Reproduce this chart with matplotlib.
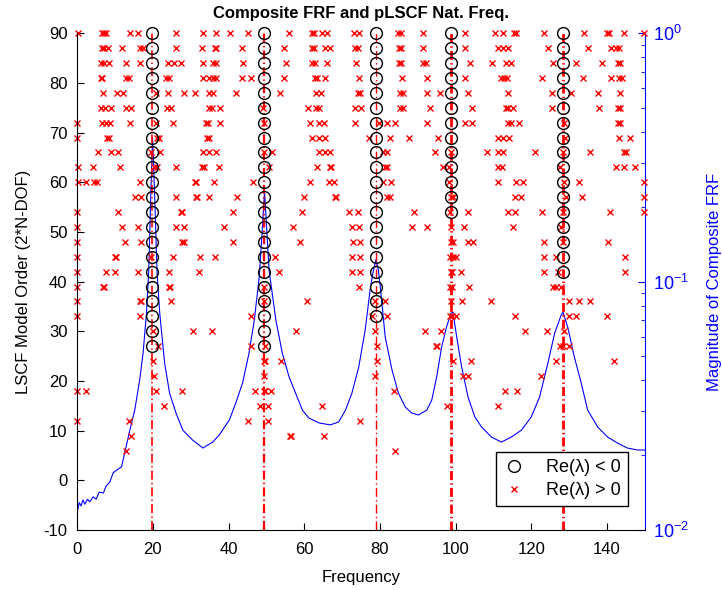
import numpy as np
import matplotlib
matplotlib.use("Agg")
import matplotlib.pyplot as plt
from matplotlib.lines import Line2D

plt.rcParams["font.family"] = ["Liberation Sans", "DejaVu Sans"]
plt.rcParams["font.size"] = 12
plt.rcParams["mathtext.fontset"] = "custom"
plt.rcParams["mathtext.rm"] = "Liberation Sans"
plt.rcParams["axes.unicode_minus"] = False
plt.rcParams["lines.scale_dashes"] = False

# --- data -----------------------------------------------------------------
# stable poles (black circles) and the dash-dot natural-frequency lines
STABLE_FREQ = [19.8, 49.4, 79.0, 98.8, 128.3]
STABLE_MIN_ORDER = [27, 27, 33, 54, 42]
LINE_WIDTH = [1.2, 1.6, 1.0, 2.0, 2.0]

# model orders and the red "x" poles (Re(lambda) > 0) found at each order
ORDERS = [90, 87, 84, 81, 78, 75, 72, 69, 66, 63, 60, 57, 54, 51, 48, 45,
          42, 39, 36, 33, 30, 27, 24, 21, 18, 15, 12, 9, 6]
UNSTABLE_FREQ = [
    [0.3, 6.6, 7.0, 7.5, 14.0, 16.1, 26.0, 33.2, 36.7, 40.4, 45.0, 56.0, 62.1,
     62.6, 64.7, 66.1, 73.1, 74.4, 84.9, 85.6, 91.5, 102.5, 110.4, 112.6,
     115.4, 115.9, 123.5, 134.0, 140.0, 140.5, 144.6, 149.8],
    [6.6, 7.2, 8.0, 11.7, 16.5, 17.4, 26.0, 33.0, 36.4, 36.8, 43.5, 54.7, 62.1,
     62.6, 65.6, 66.7, 73.3, 74.2, 85.1, 85.6, 91.5, 102.5, 111.2, 112.6,
     113.9, 124.4, 135.1, 141.2, 142.4, 143.3],
    [6.4, 7.1, 8.4, 12.8, 16.7, 23.9, 25.7, 27.5, 33.2, 36.0, 36.7, 43.9, 55.1,
     62.1, 62.8, 66.1, 73.8, 85.1, 85.6, 91.3, 92.1, 103.8, 109.5, 113.4,
     114.7, 125.7, 131.7, 138.6, 142.8, 143.5],
    [6.2, 6.6, 13.0, 13.6, 23.5, 24.2, 33.2, 34.9, 35.8, 36.7, 43.5, 45.9,
     54.7, 62.8, 63.4, 65.6, 74.4, 85.8, 92.4, 102.6, 111.9, 112.8, 113.7,
     122.9, 133.6, 141.2, 143.3, 143.9],
    [6.9, 10.4, 12.1, 20.7, 23.9, 28.3, 31.0, 34.9, 35.8, 41.9, 53.5, 63.0,
     64.3, 74.2, 74.8, 85.4, 86.2, 92.4, 95.9, 103.2, 113.9, 125.4, 130.6,
     137.7, 143.4],
    [6.4, 7.3, 8.8, 13.0, 14.1, 23.7, 24.8, 34.7, 35.6, 37.6, 49.1, 61.1, 63.2,
     63.9, 73.3, 75.1, 85.4, 86.0, 93.3, 104.4, 113.2, 113.9, 115.2, 125.4,
     138.0, 143.0, 143.5],
    [0.0, 6.6, 7.5, 8.6, 14.0, 20.7, 25.3, 34.0, 34.5, 37.7, 49.4, 61.4, 63.9,
     65.2, 73.3, 79.7, 81.9, 84.0, 92.4, 102.5, 104.4, 113.9, 114.6, 116.7,
     128.6, 142.8, 143.5],
    [0.0, 7.9, 8.4, 21.1, 21.6, 34.2, 34.7, 62.1, 64.0, 65.6, 77.0, 82.7, 87.8,
     95.4, 111.1, 112.6, 114.0, 129.0, 143.3, 146.1],
    [5.5, 9.0, 10.8, 19.6, 21.8, 33.2, 34.7, 36.7, 49.4, 51.6, 64.0, 65.6,
     66.7, 80.7, 81.8, 94.6, 98.7, 108.4, 111.2, 112.6, 121.1, 128.3, 135.4,
     144.6, 145.1],
    [0.3, 4.2, 11.2, 20.2, 21.1, 26.0, 33.0, 33.5, 37.4, 50.7, 63.4, 66.7,
     67.2, 81.4, 81.9, 96.8, 98.3, 111.2, 112.3, 127.6, 142.4, 144.5, 147.5],
    [0.3, 2.3, 4.4, 5.3, 16.5, 31.1, 31.5, 36.2, 46.5, 61.4, 66.5, 67.8, 80.7,
     82.8, 98.3, 111.1, 116.1, 117.8, 128.6, 132.7, 149.8],
    [15.2, 16.9, 26.0, 31.3, 31.6, 34.7, 42.1, 59.9, 68.1, 68.4, 81.8, 82.7,
     98.8, 99.2, 115.6, 117.4, 129.3, 133.3, 149.8],
    [0.0, 10.8, 27.4, 27.8, 41.2, 59.3, 71.8, 74.1, 88.9, 98.6, 103.2, 113.9,
     115.6, 122.8, 128.3, 140.8, 149.8],
    [0.0, 11.7, 16.1, 26.0, 28.3, 38.9, 56.9, 72.5, 74.4, 88.4, 92.4, 98.8,
     102.3, 115.2, 127.9],
    [0.0, 12.5, 16.9, 27.6, 28.1, 41.2, 58.8, 72.9, 74.8, 98.9, 99.3, 103.3,
     104.7, 123.3, 128.3, 140.2],
    [0.0, 10.0, 10.3, 19.6, 25.3, 32.4, 36.5, 52.3, 72.6, 74.8, 98.6, 99.2,
     100.0, 123.5, 126.6, 144.8],
    [0.0, 7.7, 9.9, 16.1, 24.2, 32.1, 53.2, 72.6, 74.8, 98.7, 99.0, 101.4,
     123.3, 127.0, 144.8],
    [0.0, 6.8, 7.2, 24.2, 24.6, 49.4, 74.6, 98.6, 99.0, 103.5, 125.7, 126.6,
     127.9],
    [0.0, 16.5, 16.9, 24.8, 49.4, 60.8, 78.8, 81.4, 98.8, 101.6, 109.3, 130.1,
     132.5, 135.4],
    [0.0, 16.5, 45.9, 77.9, 81.8, 98.6, 99.0, 100.0, 115.6, 130.1, 131.9,
     140.0],
    [20.0, 30.5, 35.6, 57.7, 78.8, 91.8, 96.2, 118.4, 124.2, 128.6],
    [21.3, 45.9, 49.7, 79.2, 94.8, 95.2, 127.5, 128.3, 130.1],
    [20.0, 49.3, 49.6, 53.8, 79.2, 99.4, 104.2, 126.6, 141.9],
    [20.2, 49.4, 78.8, 102.0, 103.2, 122.6],
    [0.0, 2.3, 20.7, 27.7, 47.0, 49.3, 49.6, 51.2, 83.6, 113.0, 116.2],
    [22.8, 48.4, 50.3, 64.7, 97.7, 111.1],
    [0.0, 13.7, 45.0, 50.3, 74.8],
    [14.3, 56.2, 56.6, 65.2],
    [12.8, 84.0],
]

# composite FRF magnitude (right, log axis)
FRF_FREQ = [0.0, 0.5, 1.0, 1.5, 2.0, 2.7, 3.3, 4.2, 5.0, 5.8, 6.9, 7.6, 8.6,
            9.5, 10.4, 11.7, 12.6, 13.9, 15.2, 16.5, 17.4, 18.3, 18.9, 19.4,
            19.9, 20.5, 21.1, 21.8, 23.1, 24.4, 26.1, 27.9, 30.5, 33.2, 35.8,
            37.5, 40.2, 41.9, 43.7, 45.4, 46.8, 48.1, 48.9, 49.5, 50.1, 50.7,
            52.5, 54.2, 56.0, 57.7, 59.5, 61.2, 63.9, 66.9, 69.1, 70.9, 72.6,
            74.4, 76.1, 77.5, 78.3, 79.0, 79.6, 80.1, 81.4, 83.2, 84.9, 86.7,
            88.4, 90.2, 92.4, 93.7, 95.0, 96.3, 97.6, 98.8, 99.3, 100.3, 101.6,
            103.3, 105.1, 106.9, 109.5, 112.1, 114.7, 117.4, 120.0, 122.2,
            124.4, 126.2, 127.9, 128.4, 129.7, 131.4, 133.2, 134.9, 137.6,
            140.2, 142.8, 145.4, 148.1, 150.0]
FRF_MAG = [0.01180, 0.01290, 0.01250, 0.01321, 0.01270, 0.01330, 0.01300,
           0.01360, 0.01330, 0.01420, 0.01409, 0.01500, 0.01560, 0.01700,
           0.01742, 0.01795, 0.02061, 0.02523, 0.03041, 0.04018, 0.05152,
           0.07464, 0.1112, 0.2128, 0.3800, 0.2128, 0.1081, 0.07464, 0.04699,
           0.03556, 0.02958, 0.02523, 0.02301, 0.02138, 0.02259, 0.02410,
           0.02773, 0.03243, 0.03908, 0.05152, 0.06998, 0.1042, 0.1611,
           0.2300, 0.1611, 0.1112, 0.06998, 0.05152, 0.04130, 0.03556,
           0.03041, 0.02825, 0.02698, 0.02649, 0.02723, 0.03041, 0.03556,
           0.04529, 0.06383, 0.09506, 0.1112, 0.1230, 0.1112, 0.09506,
           0.05984, 0.04406, 0.03556, 0.03126, 0.02958, 0.02904, 0.03041,
           0.03334, 0.04130, 0.05445, 0.06561, 0.07464, 0.07534, 0.05984,
           0.04529, 0.03428, 0.02851, 0.02594, 0.02366, 0.02259, 0.02366,
           0.02523, 0.02851, 0.03428, 0.04699, 0.06209, 0.07328, 0.07534,
           0.06501, 0.04966, 0.03908, 0.03041, 0.02594, 0.02366, 0.02239,
           0.02138, 0.02099, 0.02099]

# --- figure ----------------------------------------------------------------
fig = plt.figure(figsize=(7.22, 5.90), dpi=100)
ax = fig.add_axes([0.107, 0.1017, 0.786, 0.842])
ax2 = ax.twinx()
ax.set_zorder(ax2.get_zorder() + 1)
ax.patch.set_visible(False)

# FRF on the log axis
ax2.semilogy(FRF_FREQ, FRF_MAG, color="#0000ff", lw=0.8)
ax2.set_ylim(1e-2, 1e0)
ax2.set_ylabel("Magnitude of Composite FRF", color="#0000ff", fontsize=12,
               labelpad=13)
ax2.tick_params(axis="y", which="both", direction="in", colors="#0000ff",
                labelsize=13, pad=6)
ax2.tick_params(axis="y", which="major", length=5)
ax2.tick_params(axis="y", which="minor", length=3)
for side in ("left", "top", "bottom"):
    ax2.spines[side].set_visible(False)
ax2.spines["right"].set_color("#0000ff")

# natural frequency lines
for f, lw in zip(STABLE_FREQ, LINE_WIDTH):
    ax.plot([f, f], [-10, 90], color="red", lw=lw,
            dashes=(6.5, 2.3, 1.0, 2.3), zorder=1)

# unstable poles
xs, ys = [], []
for order, freqs in zip(ORDERS, UNSTABLE_FREQ):
    xs.extend(freqs)
    ys.extend([order] * len(freqs))
ax.plot(xs, ys, ls="none", marker="x", ms=4.5, mew=1.0, color="red",
        zorder=2, clip_on=False)

# stable poles
for f, lo in zip(STABLE_FREQ, STABLE_MIN_ORDER):
    orders = np.arange(lo, 91, 3)
    ax.plot([f] * len(orders), orders, ls="none", marker="o", ms=8.5,
            mew=1.0, mfc="none", mec="black", zorder=3, clip_on=False)

ax.set_xlim(0, 150)
ax.set_ylim(-10, 90)
ax.set_xticks(np.arange(0, 141, 20))
ax.set_yticks(np.arange(-10, 91, 10))
ax.tick_params(direction="in", length=5, labelsize=12, colors="black")
ax.tick_params(axis="x", pad=9)
ax.tick_params(axis="y", pad=7)
ax.spines["top"].set_visible(False)
ax.spines["right"].set_visible(False)
ax.set_xlabel("Frequency", fontsize=12, labelpad=9)
ax.set_ylabel("LSCF Model Order (2*N-DOF)", fontsize=12, labelpad=9)
ax.set_title("Composite FRF and pLSCF Nat. Freq.", fontsize=12,
             fontweight="bold", pad=11)

handles = [
    Line2D([], [], ls="none", marker="o", ms=8.5, mfc="none", mec="black"),
    Line2D([], [], ls="none", marker="x", ms=5, mew=1.0, color="red"),
]
leg = ax.legend(handles, ["Re(\u03bb) < 0", "Re(\u03bb) > 0"],
                loc="lower right", bbox_to_anchor=(0.987, 0.03), fontsize=13,
                fancybox=False, edgecolor="black", framealpha=1,
                handlelength=1.2, handletextpad=1.2, borderpad=0.4,
                labelspacing=0.3)
leg.get_frame().set_linewidth(1.0)

fig.savefig("out.png", dpi=100)
